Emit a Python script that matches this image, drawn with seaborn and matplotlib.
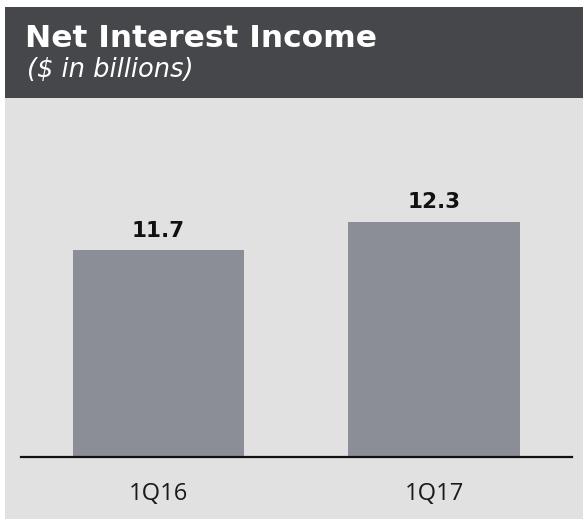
import matplotlib
matplotlib.use("Agg")
import matplotlib.pyplot as plt
import seaborn as sns
import pandas as pd
from matplotlib.patches import Rectangle

# Quarterly net interest income ($ billions)
quarters = ["1Q16", "1Q17"]
income = [11.7, 12.3]

title = "Net Interest Income"
subtitle = "($ in billions)"

W, H = 583, 519
DPI = 100

header_color = "#46474b"
panel_color = "#e0e1e0"
bar_color = "#8b8e96"

sns.set_theme(style="white")
plt.rcParams["font.family"] = ["DejaVu Sans"]

fig = plt.figure(figsize=(W / DPI, H / DPI), dpi=DPI, facecolor="white")

def fx(px):
    return px / W

def fy(py):
    return 1 - py / H

# light panel and dark title band, kept behind the axes
fig.patches.append(Rectangle((fx(5), 0), 1 - fx(5), fy(7), transform=fig.transFigure,
                             facecolor=panel_color, edgecolor="none", zorder=-2))
fig.patches.append(Rectangle((fx(5), fy(98)), 1 - fx(5), fy(7) - fy(98),
                             transform=fig.transFigure, facecolor=header_color,
                             edgecolor="none", zorder=-1))

fig.text(fx(25), fy(47), title, color="white", fontsize=22.5, fontweight="bold",
         ha="left", va="baseline")
fig.text(fx(27), fy(77), subtitle, color="white", fontsize=18.5, fontstyle="italic",
         ha="left", va="baseline")

ax = fig.add_axes([fx(20.7), fy(457.3), fx(572) - fx(20.7), fy(98) - fy(457.3)])
ax.set_zorder(1)
ax.set_facecolor("none")

df = pd.DataFrame({"quarter": quarters, "income": income})
sns.barplot(data=df, x="quarter", y="income", color=bar_color, saturation=1,
            width=0.623, ax=ax, edgecolor="none")

ax.set_xlim(-0.5, 1.5)
ax.set_ylim(7.37, 14.89)

for i, v in enumerate(income):
    ax.annotate(f"{v:.1f}", (i, v), xytext=(0, 7), textcoords="offset points",
                ha="center", va="bottom", fontsize=15.5, fontweight="bold",
                color="#111111")

for side in ["top", "left", "right"]:
    ax.spines[side].set_visible(False)
ax.spines["bottom"].set_color("#111111")
ax.spines["bottom"].set_linewidth(1.6)

ax.set_xlabel("")
ax.set_ylabel("")
ax.set_yticks([])
ax.tick_params(axis="x", length=0, pad=17.5, labelsize=17, labelcolor="#1a1a1a")
for lbl in ax.get_xticklabels():
    lbl.set_family(["Open Sans", "DejaVu Sans"])

fig.savefig("out.png", dpi=DPI, facecolor="white")
